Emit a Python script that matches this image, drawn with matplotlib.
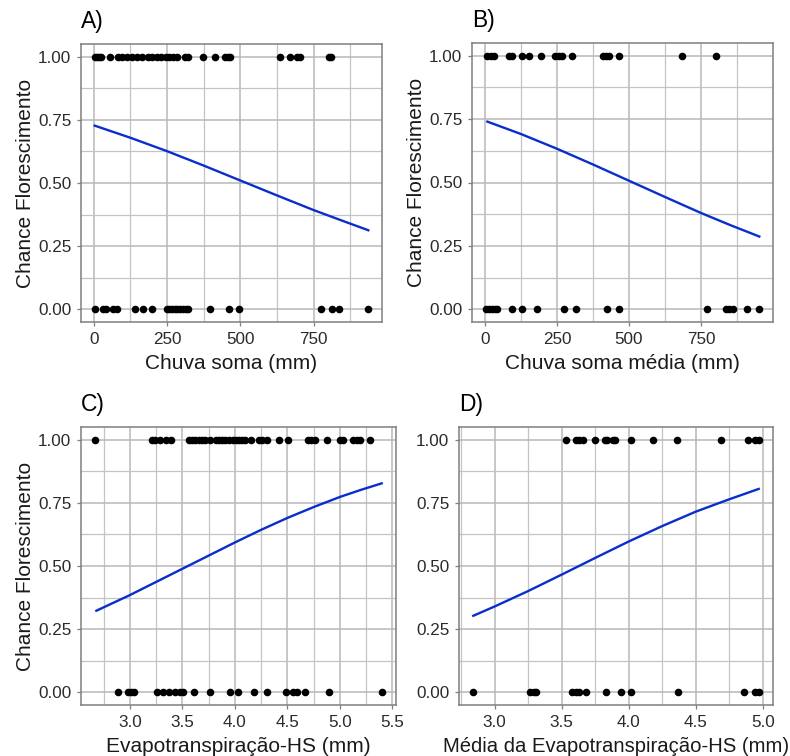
import numpy as np
import matplotlib
matplotlib.use("Agg")
import matplotlib.pyplot as plt
from matplotlib.ticker import FixedLocator, FormatStrFormatter

plt.rcParams['font.family'] = ['Liberation Sans', 'DejaVu Sans']

# Panel A - Chuva soma (mm)
a_flor_x = [3, 10, 18, 26, 55, 83, 97, 112, 129, 146, 163, 186, 200, 215, 230, 245,
            258, 270, 283, 312, 323, 374, 414, 449, 458, 466, 637, 671, 694, 705, 802, 808]
a_nflor_x = [3, 32, 43, 66, 78, 140, 169, 198, 249, 258, 267, 276, 285, 295, 305,
             314, 323, 397, 460, 494, 774, 814, 837, 937]
a_fit_x = [3, 125, 250, 375, 500, 625, 750, 850, 937]
a_fit_y = [0.727, 0.679, 0.626, 0.569, 0.51, 0.451, 0.393, 0.35, 0.313]
a_ticks = [0, 250, 500, 750]

# Panel B - Chuva soma media (mm)
b_flor_x = [8, 20, 31, 83, 94, 127, 152, 195, 244, 256, 267, 301, 411, 420, 429, 467, 684, 801]
b_nflor_x = [2, 14, 23, 33, 43, 94, 129, 181, 273, 317, 423, 467, 772, 838, 849, 861, 909, 953]
b_fit_x = [8, 125, 250, 375, 500, 625, 750, 850, 953]
b_fit_y = [0.74, 0.691, 0.633, 0.571, 0.507, 0.443, 0.38, 0.333, 0.287]
b_ticks = [0, 250, 500, 750]

# Panel C - Evapotranspiracao-HS (mm)
c_flor_x = [2.67, 3.21, 3.24, 3.29, 3.34, 3.39, 3.56, 3.59, 3.62, 3.66, 3.69, 3.72, 3.76,
            3.82, 3.85, 3.88, 3.91, 3.94, 3.98, 4.01, 4.04, 4.07, 4.10, 4.15, 4.23, 4.26,
            4.31, 4.42, 4.51, 4.70, 4.73, 4.76, 4.88, 5.00, 5.03, 5.13, 5.16, 5.19, 5.29]
c_nflor_x = [2.89, 2.98, 3.01, 3.04, 3.26, 3.32, 3.37, 3.43, 3.48, 3.51, 3.61, 3.76, 3.95,
             4.03, 4.18, 4.31, 4.49, 4.55, 4.59, 4.67, 4.90, 5.40]
c_fit_x = [2.68, 3.0, 3.25, 3.5, 3.75, 4.0, 4.25, 4.5, 4.75, 5.0, 5.2, 5.4]
c_fit_y = [0.323, 0.385, 0.437, 0.489, 0.541, 0.593, 0.643, 0.69, 0.733, 0.773, 0.801, 0.827]
c_ticks = [3.0, 3.5, 4.0, 4.5, 5.0, 5.5]

# Panel D - Media da Evapotranspiracao-HS (mm)
d_flor_x = [3.53, 3.61, 3.63, 3.66, 3.75, 3.82, 3.84, 3.88, 3.90, 4.02, 4.18, 4.36, 4.69,
            4.89, 4.94, 4.97]
d_nflor_x = [2.84, 3.26, 3.29, 3.31, 3.58, 3.61, 3.63, 3.68, 3.83, 3.94, 4.02, 4.37, 4.86,
             4.94, 4.97]
d_fit_x = [2.84, 3.0, 3.25, 3.5, 3.75, 4.0, 4.25, 4.5, 4.75, 4.97]
d_fit_y = [0.303, 0.34, 0.401, 0.466, 0.532, 0.597, 0.658, 0.715, 0.764, 0.805]
d_ticks = [3.0, 3.5, 4.0, 4.5, 5.0]

y_ticks = [0, 0.25, 0.5, 0.75, 1.0]

W, H = 790, 756
fig = plt.figure(figsize=(W / 100, H / 100), dpi=100)


def make_ax(l, r, t, b):
    return fig.add_axes([l / W, 1 - b / H, (r - l) / W, (b - t) / H])


panels = [
    ('A)', make_ax(81, 382, 44, 322), a_flor_x, a_nflor_x, a_fit_x, a_fit_y,
     'Chuva soma (mm)', True, a_ticks, '%d', 15),
    ('B)', make_ax(472, 773, 43, 322), b_flor_x, b_nflor_x, b_fit_x, b_fit_y,
     'Chuva soma média (mm)', True, b_ticks, '%d', 15),
    ('C)', make_ax(81, 396, 427, 705), c_flor_x, c_nflor_x, c_fit_x, c_fit_y,
     'Evapotranspiração-HS (mm)', True, c_ticks, '%.1f', 15),
    ('D)', make_ax(459, 773, 427, 705), d_flor_x, d_nflor_x, d_fit_x, d_fit_y,
     'Média da Evapotranspiração-HS (mm)', False, d_ticks, '%.1f', 14.6),
]

for label, ax, fx, nx, lx, ly, xlab, ylab, ticks, fmt, xfs in panels:
    allx = fx + nx
    lo, hi = min(allx), max(allx)
    pad = (hi - lo) * 0.05
    ax.set_xlim(lo - pad, hi + pad)
    ax.set_ylim(-0.05, 1.05)

    ax.scatter(fx, [1] * len(fx), s=30, color='black', zorder=3, linewidths=0)
    ax.scatter(nx, [0] * len(nx), s=30, color='black', zorder=3, linewidths=0)
    ax.plot(lx, ly, color='#0a2ecc', lw=1.7, zorder=4)

    step = ticks[1] - ticks[0]
    minor = [t - step / 2 for t in ticks] + [ticks[-1] + step / 2]
    ax.xaxis.set_major_locator(FixedLocator(ticks))
    ax.xaxis.set_minor_locator(FixedLocator(minor))
    ax.xaxis.set_major_formatter(FormatStrFormatter(fmt))
    ax.yaxis.set_major_locator(FixedLocator(y_ticks))
    ax.yaxis.set_minor_locator(FixedLocator([0.125, 0.375, 0.625, 0.875]))
    ax.yaxis.set_major_formatter(FormatStrFormatter('%.2f'))

    ax.grid(which='major', color='#b8b8b8', lw=1.1)
    ax.grid(which='minor', color='#c4c4c4', lw=0.9)
    ax.set_axisbelow(True)
    for s in ax.spines.values():
        s.set_color('#7f7f7f')
        s.set_linewidth(1.1)
    ax.tick_params(which='major', length=3, width=0.9, color='#7f7f7f', pad=4,
                   labelsize=12.3, labelcolor='#2b2b2b')
    ax.tick_params(which='minor', length=0)

    ax.set_xlabel(xlab, fontsize=xfs, labelpad=5, color='#1a1a1a')
    if ylab:
        ax.set_ylabel('Chance Florescimento', fontsize=15, labelpad=2, color='#1a1a1a')

    ax.annotate(label, xy=(0, 1), xycoords='axes fraction', xytext=(0, 16),
                textcoords='offset points', ha='left', va='center', fontsize=16.5,
                color='black')

fig.savefig('out.png', dpi=100, facecolor='white')
